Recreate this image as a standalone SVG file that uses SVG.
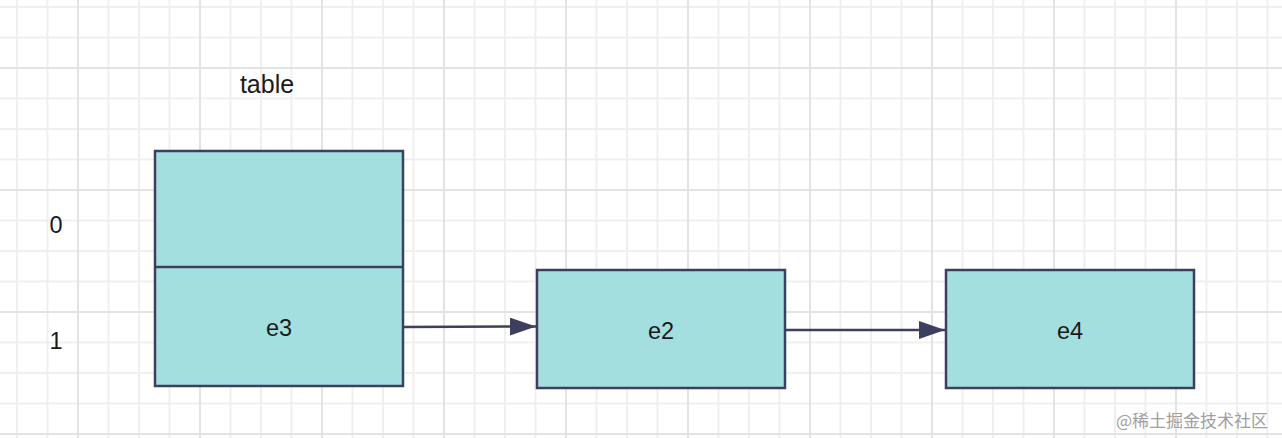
<svg xmlns="http://www.w3.org/2000/svg" width="1282" height="438" viewBox="0 0 1282 438">
<defs>
<pattern id="minor" x="16" y="6" width="30.5" height="30.5" patternUnits="userSpaceOnUse">
<path d="M1 0V30.5M0 1H30.5" fill="none" stroke="#efefef" stroke-width="2"/>
</pattern>
<pattern id="major" x="77" y="67" width="122" height="122" patternUnits="userSpaceOnUse">
<path d="M1 0V122M0 1H122" fill="none" stroke="#e3e3e3" stroke-width="2"/>
</pattern>
<marker id="arr" viewBox="0 0 26 18" refX="26" refY="9" markerWidth="26" markerHeight="18" markerUnits="userSpaceOnUse" orient="auto">
<path d="M0 0L26 9L0 18Z" fill="#3d3f5e"/>
</marker>
<style>
.box{fill:#a4dfe0;stroke:#3d3f5e;stroke-width:2.5}
.t{font-family:"Liberation Sans",Arial,sans-serif;font-size:23.5px;fill:#1a1a1a;text-anchor:middle}
.edge{fill:none;stroke:#3d3f5e;stroke-width:2.5}
.wm{font-family:"Noto Sans CJK SC",sans-serif;font-size:17px;fill:#a0a0a0}
</style>
</defs>
<rect width="1282" height="438" fill="#ffffff"/>
<rect width="1282" height="438" fill="url(#minor)"/>
<rect width="1282" height="438" fill="url(#major)"/>
<text class="t" x="267" y="93" style="font-size:25px">table</text>
<text class="t" x="56" y="233">0</text>
<text class="t" x="56" y="349">1</text>
<g id="table">
<rect class="box" x="155" y="151" width="248" height="235"/>
<line x1="155" y1="267" x2="403" y2="267" stroke="#3d3f5e" stroke-width="2.5"/>
<text class="t" x="279" y="336">e3</text>
</g>
<g id="e2">
<rect class="box" x="537" y="270" width="248" height="118"/>
<text class="t" x="661" y="339">e2</text>
</g>
<g id="e4">
<rect class="box" x="946" y="270" width="248" height="118"/>
<text class="t" x="1070" y="339">e4</text>
</g>
<g id="connectors">
<path class="edge" d="M403 327L536 326.5" marker-end="url(#arr)"/>
<path class="edge" d="M785 330L945 330" marker-end="url(#arr)"/>
</g>
<text class="wm" x="1116" y="427">@稀土掘金技术社区</text>
</svg>
